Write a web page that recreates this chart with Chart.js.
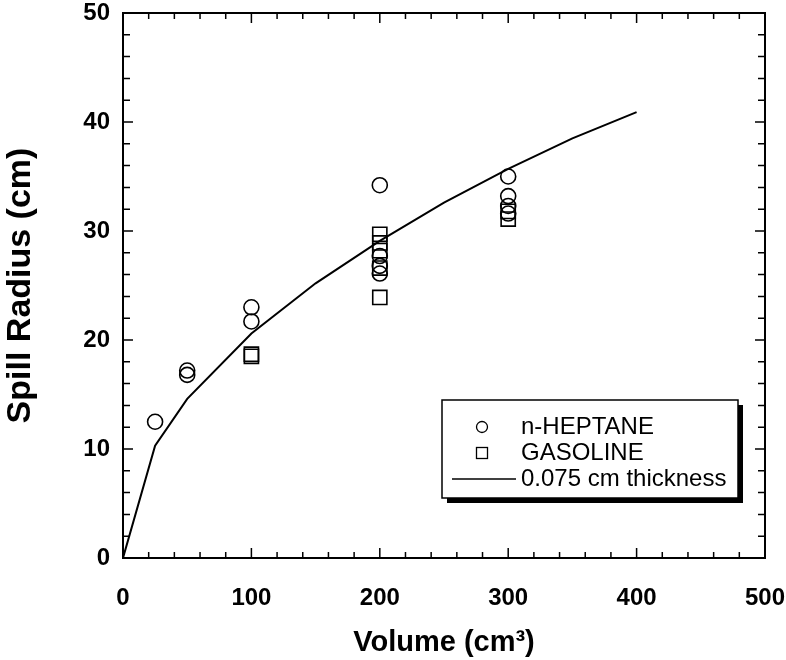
<!DOCTYPE html>
<html>
<head>
<meta charset="utf-8">
<script src="https://cdn.jsdelivr.net/npm/chart.js@4"></script>
<style>
  html, body { margin: 0; padding: 0; background: #fff; }
  #wrap { width: 786px; height: 660px; }
</style>
</head>
<body>
<div id="wrap"><canvas id="spillChart" width="786" height="660"></canvas></div>
<script>
// values
const heptaneX = [25, 50, 50, 100, 100, 200, 200, 200, 200, 300, 300, 300, 300];
const heptaneY = [12.5, 17.2, 16.8, 23.0, 21.7, 34.2, 27.7, 26.8, 26.1, 35.0, 33.2, 32.3, 31.6];

const gasolineX = [100, 100, 200, 200, 200, 200, 200, 300, 300];
const gasolineY = [18.5, 18.7, 29.7, 28.9, 28.2, 26.6, 23.9, 31.8, 31.1];

const thicknessX = [0, 25, 50, 100, 150, 200, 250, 300, 350, 400];
const thicknessY = [0, 10.3, 14.6, 20.6, 25.2, 29.1, 32.6, 35.7, 38.5, 40.9];

const xTicks = [0, 100, 200, 300, 400, 500];
const yTicks = [0, 10, 20, 30, 40, 50];

const FONT = '"Liberation Sans", Arial, Helvetica, sans-serif';

function toPoints(xs, ys) {
    return xs.map((x, i) => ({ x: x, y: ys[i] }));
}

// no extra room for overhanging tick labels
function noPadding(scale) {
    scale.paddingTop = 0;
    scale.paddingBottom = 0;
    scale.paddingLeft = 0;
    scale.paddingRight = 0;
}

// frame with inward ticks on all four sides
const framePlugin = {
    id: 'frame',
    afterDraw(chart) {
        const ctx = chart.ctx;
        const a = chart.chartArea;
        const xs = chart.scales.x;
        const ys = chart.scales.y;
        ctx.save();
        ctx.strokeStyle = '#000';
        ctx.lineWidth = 2;
        ctx.strokeRect(a.left, a.top, a.right - a.left, a.bottom - a.top);

        ctx.lineWidth = 1.5;
        ctx.beginPath();
        for (let v = 0; v <= 500; v += 20) {
            const px = xs.getPixelForValue(v);
            const len = v % 100 === 0 ? 10 : 6;
            ctx.moveTo(px, a.bottom); ctx.lineTo(px, a.bottom - len);
            ctx.moveTo(px, a.top); ctx.lineTo(px, a.top + len);
        }
        for (let v = 0; v <= 50; v += 2) {
            const py = ys.getPixelForValue(v);
            const len = v % 10 === 0 ? 10 : 7;
            ctx.moveTo(a.left, py); ctx.lineTo(a.left + len, py);
            ctx.moveTo(a.right, py); ctx.lineTo(a.right - len, py);
        }
        ctx.stroke();
        ctx.restore();
    }
};

// boxed legend with drop shadow, inside the plot
const legendBoxPlugin = {
    id: 'legendBox',
    afterDraw(chart) {
        const ctx = chart.ctx;
        const a = chart.chartArea;
        const bx = a.right - 323, by = 400, bw = 296, bh = 98;
        ctx.save();
        ctx.fillStyle = '#000';
        ctx.fillRect(bx + 5, by + 5, bw, bh);
        ctx.fillStyle = '#fff';
        ctx.fillRect(bx, by, bw, bh);
        ctx.strokeStyle = '#000';
        ctx.lineWidth = 1.5;
        ctx.strokeRect(bx, by, bw, bh);

        const ds = chart.data.datasets;
        const rows = [27, 53, 79];
        const symX = bx + 40;
        const textX = bx + 79;
        ctx.font = '24px ' + FONT;
        ctx.textBaseline = 'middle';
        ctx.fillStyle = '#000';
        ctx.lineWidth = 1.3;

        // circle
        ctx.beginPath();
        ctx.arc(symX, by + rows[0], 5.5, 0, Math.PI * 2);
        ctx.stroke();
        ctx.fillText(ds[0].label, textX, by + rows[0]);
        // square
        ctx.strokeRect(symX - 5.5, by + rows[1] - 5.5, 11, 11);
        ctx.fillText(ds[1].label, textX, by + rows[1]);
        // line
        ctx.beginPath();
        ctx.moveTo(bx + 10, by + rows[2]);
        ctx.lineTo(bx + 74, by + rows[2]);
        ctx.stroke();
        ctx.fillText(ds[2].label, textX, by + rows[2]);
        ctx.restore();
    }
};

const data = {
    datasets: [
        {
            label: 'n-HEPTANE',
            data: toPoints(heptaneX, heptaneY),
            pointStyle: 'circle',
            pointRadius: 7.5,
            pointBorderWidth: 1.6,
            borderColor: '#000',
            backgroundColor: 'rgba(0,0,0,0)',
            showLine: false
        },
        {
            label: 'GASOLINE',
            data: toPoints(gasolineX, gasolineY),
            pointStyle: 'rect',
            pointRadius: 10,
            pointBorderWidth: 1.6,
            borderColor: '#000',
            backgroundColor: 'rgba(0,0,0,0)',
            showLine: false
        },
        {
            label: '0.075 cm thickness',
            data: toPoints(thicknessX, thicknessY),
            showLine: true,
            borderColor: '#000',
            borderWidth: 2,
            pointRadius: 0,
            tension: 0,
            fill: false
        }
    ]
};

const config = {
    type: 'scatter',
    data,
    options: {
        responsive: false,
        animation: false,
        events: [],
        layout: { padding: { top: 13, right: 21, left: 0, bottom: 0 } },
        plugins: {
            legend: { display: false },
            tooltip: { enabled: false }
        },
        scales: {
            x: {
                type: 'linear',
                min: 0,
                max: 500,
                afterFit(scale) { scale.height = 102; noPadding(scale); },
                afterBuildTicks(scale) { scale.ticks = xTicks.map(v => ({ value: v })); },
                grid: { display: false, drawTicks: false },
                border: { display: false },
                ticks: {
                    color: '#000',
                    padding: 26,
                    font: { family: FONT, size: 24, weight: 'bold' }
                },
                title: {
                    display: true,
                    text: 'Volume (cm³)',
                    color: '#000',
                    padding: { top: 8, bottom: 0 },
                    font: { family: FONT, size: 29, weight: 'bold' }
                }
            },
            y: {
                type: 'linear',
                min: 0,
                max: 50,
                afterFit(scale) { scale.width = 123; noPadding(scale); },
                afterBuildTicks(scale) { scale.ticks = yTicks.map(v => ({ value: v })); },
                grid: { display: false, drawTicks: false },
                border: { display: false },
                ticks: {
                    color: '#000',
                    padding: 13,
                    font: { family: FONT, size: 24, weight: 'bold' }
                },
                title: {
                    display: true,
                    text: 'Spill Radius (cm)',
                    color: '#000',
                    padding: { top: 0, bottom: 0 },
                    font: { family: FONT, size: 34, weight: 'bold' }
                }
            }
        }
    },
    plugins: [framePlugin, legendBoxPlugin]
};

new Chart(document.getElementById('spillChart'), config);
</script>
</body>
</html>
